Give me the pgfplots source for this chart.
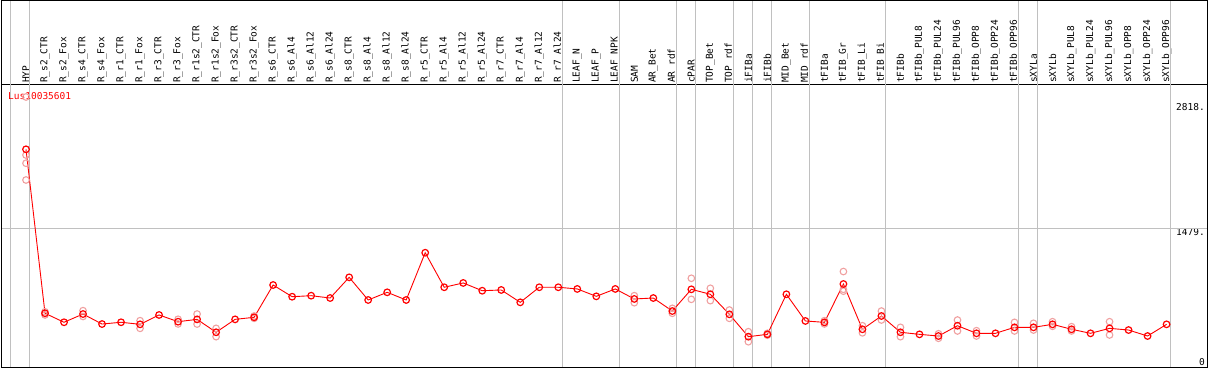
\documentclass[border=0pt]{standalone}
\usepackage{fontspec}
\setmonofont{DejaVu Sans Mono}
\usepackage{pgfplots}
\pgfplotsset{compat=1.18}
\definecolor{gridgray}{RGB}{192,192,192}
\definecolor{repl}{RGB}{240,160,160}
\newcommand{\lbl}{\fontsize{9.5}{10}\selectfont\ttfamily}
\begin{document}
\begin{tikzpicture}[x=1pt,y=1pt]
\begin{axis}[
  at={(0,0)}, anchor=south west,
  scale only axis, width=1206.5pt, height=282pt,
  xmin=-1.289, xmax=62.178, ymin=0, ymax=3013,
  clip=false,
  axis line style={line width=1pt},
  major tick length=0pt,
  xtick={0,...,60},
  xticklabels={HYP,R\_s2\_CTR,R\_s2\_Fox,R\_s4\_CTR,R\_s4\_Fox,R\_r1\_CTR,R\_r1\_Fox,R\_r3\_CTR,R\_r3\_Fox,R\_r1s2\_CTR,R\_r1s2\_Fox,R\_r3s2\_CTR,R\_r3s2\_Fox,R\_s6\_CTR,R\_s6\_Al4,R\_s6\_Al12,R\_s6\_Al24,R\_s8\_CTR,R\_s8\_Al4,R\_s8\_Al12,R\_s8\_Al24,R\_r5\_CTR,R\_r5\_Al4,R\_r5\_Al12,R\_r5\_Al24,R\_r7\_CTR,R\_r7\_Al4,R\_r7\_Al12,R\_r7\_Al24,LEAF\_N,LEAF\_P,LEAF\_NPK,SAM,AR\_Bet,AR\_rdf,cPAR,TOP\_Bet,TOP\_rdf,iFIBa,iFIBb,MID\_Bet,MID\_rdf,tFIBa,tFIB\_Gr,tFIB\_Li,tFIB\_Bi,tFIBb,tFIBb\_PUL8,tFIBb\_PUL24,tFIBb\_PUL96,tFIBb\_OPP8,tFIBb\_OPP24,tFIBb\_OPP96,sXYLa,sXYLb,sXYLb\_PUL8,sXYLb\_PUL24,sXYLb\_PUL96,sXYLb\_OPP8,sXYLb\_OPP24,sXYLb\_OPP96},
  xticklabel pos=upper,
  xticklabel style={rotate=90, anchor=west, inner xsep=2pt, inner ysep=0pt, font=\lbl},
  ytick={1479,2818}, yticklabels={1479.,2818.},
  yticklabel pos=right,
  yticklabel style={anchor=north east, inner sep=0pt, xshift=-3pt, font=\lbl},
  extra y ticks={0}, extra y tick labels={0},
  extra y tick style={yticklabel style={anchor=south east, yshift=1.5pt}},
]
\pgfplotsinvokeforeach{-0.79,0.21,28.21,31.21,34.21,35.21,37.21,38.21,39.21,41.21,45.21,52.21,53.21,60.21}{
  \draw[gridgray, line width=1pt] (axis cs:#1,0) -- (axis cs:#1,3915);
}
\draw[gridgray, line width=1pt] (axis cs:-1.289,1479) -- (axis cs:62.178,1479);
\draw[line width=1pt] (rel axis cs:0,0) rectangle (rel axis cs:1,1.2996);

\addplot[only marks, repl, mark=o, mark size=3.3pt, mark options={line width=1.1pt}] coordinates {
(0,2885)(0,2265)(0,2177)(0,1998)
(1,590)(1,556)
(3,602)(3,540)
(6,495)(6,413)
(8,510)(8,460)
(9,566)(9,459)
(10,413)(10,324)
(12,545)(12,520)
(32,762)(32,687)
(34,627)(34,574)
(35,948)(35,723)
(36,841)(36,709)
(37,609)(37,520)
(38,377)(38,270)
(39,360)(39,340)
(42,495)(42,460)
(43,1020)(43,810)(43,830)
(44,441)(44,365)
(45,598)(45,502)
(46,424)(46,324)
(48,307)(48,355)
(49,502)(49,385)
(50,388)(50,331)
(52,477)(52,385)
(53,467)(53,395)
(54,484)(54,435)
(55,431)(55,385)
(57,484)(57,342)
};
\addplot[red, line width=0.9pt, mark=o, mark size=3.3pt, mark options={line width=1.2pt}] coordinates {
(0,2326)(1,574)(2,478)(3,566)(4,459)(5,478)(6,456)(7,556)(8,484)(9,509)(10,371)(11,509)(12,531)(13,876)(14,751)(15,762)(16,737)(17,958)(18,716)(19,798)(20,716)(21,1221)(22,852)(23,898)(24,815)(25,823)(26,691)(27,852)(28,852)(29,834)(30,755)(31,834)(32,727)(33,737)(34,598)(35,830)(36,777)(37,563)(38,324)(39,349)(40,777)(41,492)(42,477)(43,887)(44,403)(45,545)(46,371)(47,349)(48,331)(49,441)(50,360)(51,360)(52,424)(53,424)(54,456)(55,403)(56,360)(57,413)(58,395)(59,331)(60,456)
};
\node[anchor=north west, inner sep=0pt, text=red, font=\lbl, xshift=6.5pt, yshift=-7pt] at (rel axis cs:0,1) {Lus10035601};
\end{axis}
\pgfresetboundingbox
\path (-1.5,-3) rectangle (1207.5,367);
\end{tikzpicture}
\end{document}
